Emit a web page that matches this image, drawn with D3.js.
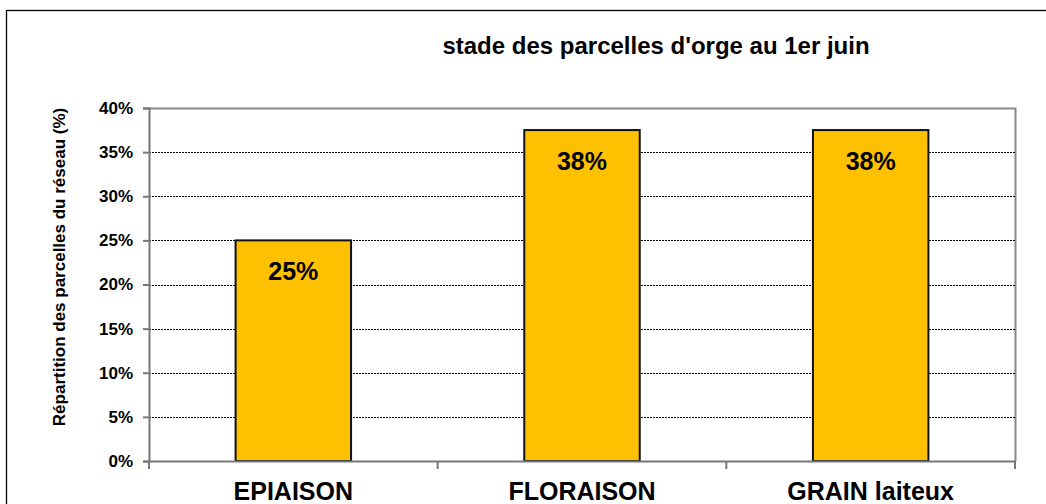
<!DOCTYPE html>
<html><head><meta charset="utf-8">
<script src="https://cdn.jsdelivr.net/npm/d3@7"></script>
<style>body{margin:0;background:#fff}svg{display:block}text{font-family:"Liberation Sans",Arial,sans-serif;font-weight:bold}</style>
</head><body><svg id="c" width="1046" height="504"></svg>
<script>
const categories = ["EPIAISON", "FLORAISON", "GRAIN laiteux"];
const values = [0.25, 0.375, 0.375];
const valueLabels = ["25%", "38%", "38%"];
const yTicks = [0, 0.05, 0.10, 0.15, 0.20, 0.25, 0.30, 0.35, 0.40];
const title = "stade des parcelles d'orge au 1er juin";
const yTitle = "Répartition des parcelles du réseau (%)";

const svg = d3.select("#c");
const L = 149, R = 1015, T = 108, B = 461;
const x = d3.scaleBand().domain(categories).range([L, R]).paddingInner(0.6).paddingOuter(0.3);
const xb = d3.scaleBand().domain(categories).range([L, R]);
const y = d3.scaleLinear().domain([0, 0.4]).range([B, T]);

// outer frame
svg.append("rect").attr("x", 6.5).attr("y", 10.5).attr("width", 1100).attr("height", 600)
  .attr("fill", "none").attr("stroke", "#000").attr("stroke-width", 1.3);

// plot border (top/right)
svg.append("path").attr("d", `M${L},${T+0.5}H${R+0.5}V${B}`).attr("fill", "none")
  .attr("stroke", "#888").attr("stroke-width", 2);

// gridlines
svg.append("g").selectAll("line").data(yTicks.filter(t => t > 0 && t < 0.4)).join("line")
  .attr("x1", L).attr("x2", R).attr("y1", d => Math.round(y(d)) + 0.5).attr("y2", d => Math.round(y(d)) + 0.5)
  .attr("stroke", "#000").attr("stroke-width", 1).attr("stroke-dasharray", "2,1");

// bars
svg.append("g").selectAll("rect").data(values).join("rect")
  .attr("x", (d, i) => x(categories[i])).attr("width", x.bandwidth())
  .attr("y", d => y(d)).attr("height", d => B - y(d))
  .attr("fill", "#FFC000").attr("stroke", "#111").attr("stroke-width", 2);

// value labels
svg.append("g").selectAll("text").data(values).join("text")
  .attr("x", (d, i) => x(categories[i]) + x.bandwidth() / 2).attr("y", d => y(d) + 40)
  .attr("text-anchor", "middle").attr("font-size", 25).attr("fill", "#000")
  .text((d, i) => valueLabels[i]);

// y axis
const ya = svg.append("g").attr("transform", `translate(${L},0)`)
  .call(d3.axisLeft(y).tickValues(yTicks).tickFormat(d3.format(".0%")).tickSize(6).tickPadding(10));
ya.select(".domain").attr("stroke", "#777").attr("stroke-width", 2);
ya.selectAll(".tick line").attr("stroke", "#777").attr("stroke-width", 2);
ya.selectAll("text").attr("font-size", 17).attr("fill", "#000");

// x axis
const xa = svg.append("g").attr("transform", `translate(0,${B})`)
  .call(d3.axisBottom(xb).tickSize(0).tickPadding(0).tickFormat(() => ""));
xa.select(".domain").attr("stroke", "#777").attr("stroke-width", 2);
xa.selectAll(".tick").remove();
const bounds = [L, ...categories.map(c => xb(c) + xb.bandwidth())];
svg.append("g").selectAll("line").data(bounds).join("line")
  .attr("x1", d => d).attr("x2", d => d).attr("y1", B).attr("y2", B + 8)
  .attr("stroke", "#777").attr("stroke-width", 2);
svg.append("g").selectAll("text").data(categories).join("text")
  .attr("x", d => xb(d) + xb.bandwidth() / 2).attr("y", 500)
  .attr("text-anchor", "middle").attr("font-size", 25).attr("fill", "#000").text(d => d);

// titles
svg.append("text").attr("x", 656).attr("y", 54).attr("text-anchor", "middle")
  .attr("font-size", 24).attr("fill", "#000").text(title);
svg.append("text").attr("transform", "translate(65,267) rotate(-90)").attr("text-anchor", "middle")
  .attr("font-size", 17).attr("fill", "#000").text(yTitle);
</script></body></html>
